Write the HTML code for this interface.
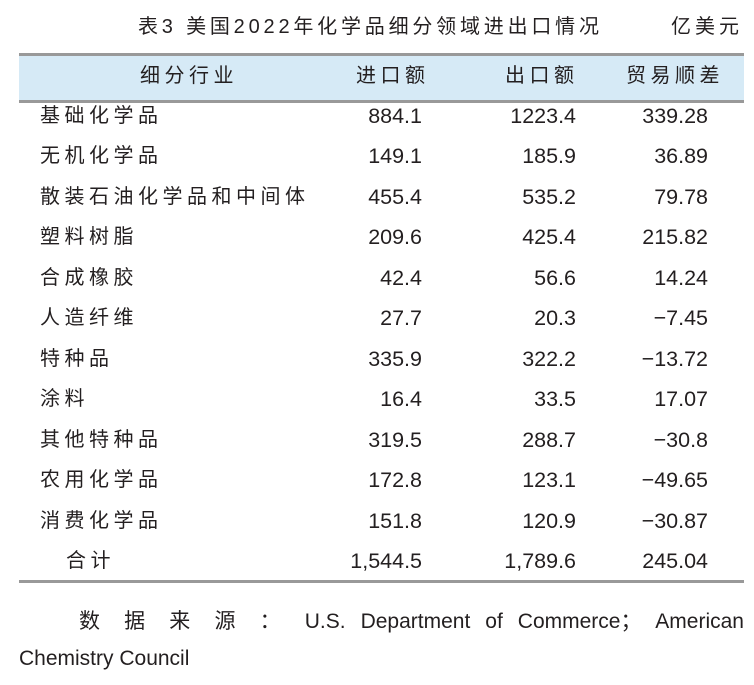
<!DOCTYPE html>
<html><head><meta charset="utf-8"><style>
body{margin:0;width:754px;height:685px;background:#fff;position:relative;overflow:hidden;font-family:"Liberation Sans","Noto Sans CJK SC",sans-serif;color:#231f20}
.a{position:absolute;white-space:nowrap;line-height:1}
.l{font-size:20px;letter-spacing:4.5px}
.n{font-size:21.5px;text-align:right}
</style></head><body>
<div class="a" style="left:138px;top:17px;font-size:20px;letter-spacing:3.8px">表3 美国2022年化学品细分领域进出口情况</div>
<div class="a" style="left:671px;top:17px;font-size:20px;letter-spacing:4px">亿美元</div>
<div class="a" style="left:19px;top:53px;width:725px;height:44px;background:#d6eaf6;border-top:3px solid #999;border-bottom:3px solid #999"></div>
<div class="a l" style="left:140px;top:66px">细分行业</div>
<div class="a l" style="left:356px;top:66px">进口额</div>
<div class="a l" style="left:505px;top:66px">出口额</div>
<div class="a l" style="left:626px;top:66px">贸易顺差</div>
<div id="rows"></div>
<div class="a" style="left:19px;top:580px;width:725px;height:3px;background:#999"></div>
<div class="a" style="left:79px;top:611px;width:665px;font-size:21px;text-align:justify;text-align-last:justify;white-space:normal">数 据 来 源 ： U.S. Department of Commerce； American</div>
<div class="a" style="left:19px;top:648px;font-size:21px">Chemistry Council</div>
<script>
const names=["基础化学品","无机化学品","散装石油化学品和中间体","塑料树脂","合成橡胶","人造纤维","特种品","涂料","其他特种品","农用化学品","消费化学品","合计"];
const imports=["884.1","149.1","455.4","209.6","42.4","27.7","335.9","16.4","319.5","172.8","151.8","1,544.5"];
const exports_=["1223.4","185.9","535.2","425.4","56.6","20.3","322.2","33.5","288.7","123.1","120.9","1,789.6"];
const balance=["339.28","36.89","79.78","215.82","14.24","−7.45","−13.72","17.07","−30.8","−49.65","−30.87","245.04"];
const R=document.getElementById('rows');
names.forEach((n,i)=>{
 const y=106+i*40.45;
 const last=i===names.length-1;
 const mk=(txt,cls,style,name)=>{const d=document.createElement('div');d.className='a '+cls;d.style.cssText=style+';top:'+y+'px';d.textContent=txt;
 
 
 R.appendChild(d);};
 mk(n,'l','left:'+(last?66:40)+'px','row-label');
 mk(imports[i],'n','right:'+(754-422)+'px','import-value');
 mk(exports_[i],'n','right:'+(754-576)+'px','export-value');
 mk(balance[i],'n','right:'+(754-708)+'px','balance-value');
});
</script>
</body></html>
